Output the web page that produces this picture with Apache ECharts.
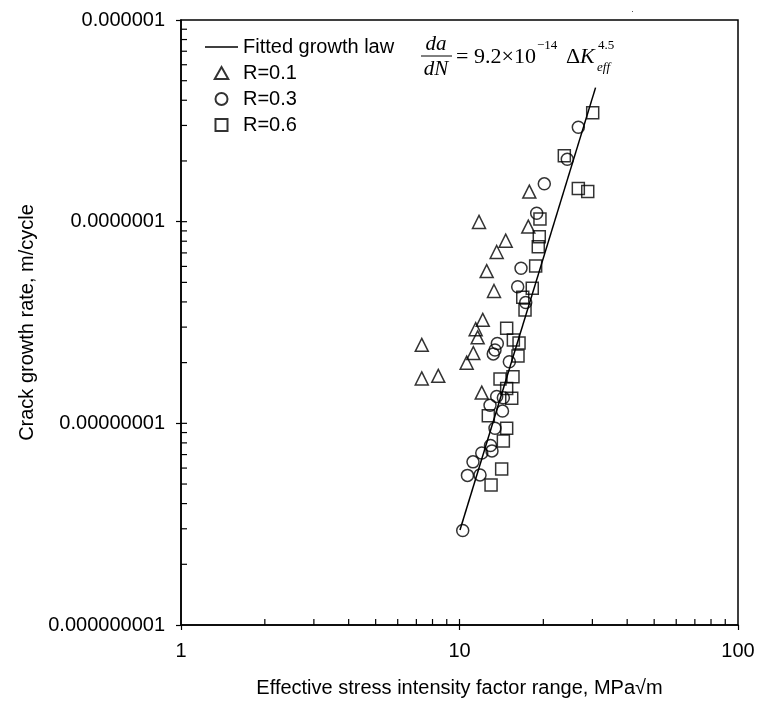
<!DOCTYPE html>
<html>
<head>
<meta charset="utf-8">
<script src="https://cdn.jsdelivr.net/npm/echarts@6.0.0/dist/echarts.min.js"></script>
<style>
  html, body { margin: 0; padding: 0; background: #fff; }
  #chart { width: 763px; height: 704px; }
</style>
</head>
<body>
<div id="chart"></div>
<script>
// [dK_eff (MPa√m), da/dN (m/cycle)]
const r01 = [[11.75, 9.97e-8], [13.60, 7.07e-8], [12.52, 5.69e-8], [13.30, 4.53e-8], [17.81, 1.41e-7],
  [17.66, 9.45e-8], [14.65, 8.05e-8], [12.12, 3.26e-8], [11.43, 2.93e-8], [11.62, 2.67e-8],
  [11.21, 2.23e-8], [10.61, 2.00e-8], [12.02, 1.42e-8], [7.32, 2.45e-8], [7.32, 1.67e-8], [8.39, 1.72e-8]];

const r03 = [[26.71, 2.94e-7], [24.38, 2.04e-7], [20.16, 1.54e-7], [18.93, 1.10e-7], [16.63, 5.87e-8],
  [16.18, 4.76e-8], [17.29, 3.97e-8], [13.67, 2.49e-8], [13.41, 2.31e-8], [13.22, 2.21e-8],
  [15.10, 2.02e-8], [13.60, 1.36e-8], [14.37, 1.34e-8], [12.87, 1.23e-8], [14.27, 1.15e-8],
  [13.41, 9.46e-9], [12.92, 7.77e-9], [13.08, 7.30e-9], [12.02, 7.13e-9], [11.18, 6.44e-9],
  [10.68, 5.52e-9], [11.85, 5.55e-9], [10.27, 2.94e-9]];

const r06 = [[30.08, 3.47e-7], [23.79, 2.12e-7], [26.71, 1.46e-7], [28.87, 1.41e-7], [19.45, 1.03e-7],
  [19.34, 8.42e-8], [19.18, 7.52e-8], [18.77, 6.03e-8], [18.25, 4.68e-8], [16.87, 4.22e-8],
  [17.19, 3.65e-8], [14.77, 2.96e-8], [15.61, 2.59e-8], [16.36, 2.50e-8], [16.22, 2.16e-8],
  [13.98, 1.66e-8], [15.56, 1.70e-8], [14.77, 1.49e-8], [15.40, 1.33e-8], [12.69, 1.09e-8],
  [14.77, 9.46e-9], [14.37, 8.18e-9], [14.17, 5.94e-9], [12.98, 4.95e-9]];

// fitted growth law, end points
const fitLine = [[10.04, 2.96e-9], [30.8, 4.62e-7]];

const yTickValues = [1e-9, 1e-8, 1e-7, 1e-6];
const yTickLabels = ['0.000000001', '0.00000001', '0.0000001', '0.000001'];

// inside ticks
const xInnerTicks = [2, 3, 4, 5, 6, 7, 8, 9, 10, 20, 30, 40, 50, 60, 70, 80, 90];
const yInnerTicks = [2e-9, 3e-9, 4e-9, 5e-9, 6e-9, 7e-9, 8e-9, 9e-9, 1e-8,
  2e-8, 3e-8, 4e-8, 5e-8, 6e-8, 7e-8, 8e-8, 9e-8, 1e-7,
  2e-7, 3e-7, 4e-7, 5e-7, 6e-7, 7e-7, 8e-7, 9e-7];

const FONT = "'Liberation Sans', Arial, sans-serif";
const SERIF = "'Liberation Serif', 'Times New Roman', serif";

var chart = echarts.init(document.getElementById('chart'), null, { renderer: 'canvas' });

var markerStyle = { color: 'transparent', borderColor: '#000', borderWidth: 1.5 };

var option = {
  animation: false,
  backgroundColor: '#fff',
  grid: {
    left: 181, top: 20, width: 557, height: 605,
    show: true, borderColor: '#000', borderWidth: 1.5,
    outerBoundsMode: 'none'
  },
  legend: {
    left: 205, top: 37,
    orient: 'vertical',
    padding: 0,
    itemWidth: 33, itemHeight: 12, itemGap: 6,
    symbolKeepAspect: true,
    textStyle: { fontFamily: FONT, fontSize: 20, color: '#000', lineHeight: 20 },
    data: [
      { name: 'Fitted growth law', icon: 'path://M0,0H66V3H0Z', itemStyle: { color: '#000', borderWidth: 0 } },
      { name: 'R=0.1', icon: 'path://M6.5,0L13,11.5L0,11.5Z' },
      { name: 'R=0.3', icon: 'circle' },
      { name: 'R=0.6', icon: 'path://M0,0H11V11H0Z' }
    ]
  },
  xAxis: {
    type: 'log', logBase: 10, min: 1, max: 100,
    name: 'Effective stress intensity factor range, MPa\u221Am',
    nameLocation: 'middle', nameGap: 53,
    nameTextStyle: { fontFamily: FONT, fontSize: 20, color: '#000' },
    axisLine: { lineStyle: { color: '#000', width: 1.5 } },
    axisTick: { show: true, inside: false, length: 5, lineStyle: { color: '#000', width: 1.2 } },
    axisLabel: { margin: 16, fontFamily: FONT, fontSize: 20, color: '#000' },
    splitLine: { show: false }
  },
  yAxis: {
    type: 'log', logBase: 10, min: 1e-9, max: 1e-6,
    name: 'Crack growth rate, m/cycle',
    nameLocation: 'middle', nameGap: 141,
    nameTextStyle: { fontFamily: FONT, fontSize: 20, color: '#000' },
    axisLine: { lineStyle: { color: '#000', width: 1.5 } },
    axisTick: { show: true, inside: false, length: 5, lineStyle: { color: '#000', width: 1.2 } },
    axisLabel: {
      margin: 16, fontFamily: FONT, fontSize: 20, color: '#000',
      formatter: function (v) {
        for (var i = 0; i < yTickValues.length; i++) {
          if (Math.abs(Math.log10(v) - Math.log10(yTickValues[i])) < 0.01) return yTickLabels[i];
        }
        return '';
      }
    },
    splitLine: { show: false }
  },
  series: [
    {
      name: 'Fitted growth law', type: 'line', data: fitLine,
      symbol: 'none', showSymbol: false,
      lineStyle: { color: '#000', width: 1.5 }, itemStyle: { color: '#000' },
      z: 3
    },
    {
      name: 'R=0.1', type: 'scatter', data: r01, symbol: 'triangle', symbolSize: 13,
      itemStyle: markerStyle, z: 4
    },
    {
      name: 'R=0.3', type: 'scatter', data: r03, symbol: 'circle', symbolSize: 12,
      itemStyle: markerStyle, z: 4
    },
    {
      name: 'R=0.6', type: 'scatter', data: r06, symbol: 'rect', symbolSize: 12,
      itemStyle: markerStyle, z: 4
    },
    {
      // inside ticks on x axis
      type: 'custom', silent: true, clip: false, z: 5,
      data: xInnerTicks.map(function (v) { return [v, 1e-9]; }),
      renderItem: function (params, api) {
        var p = api.coord([api.value(0), api.value(1)]);
        return { type: 'line', shape: { x1: p[0], y1: p[1], x2: p[0], y2: p[1] - 6 },
          style: { stroke: '#000', lineWidth: 1.2 } };
      }
    },
    {
      // inside ticks on y axis
      type: 'custom', silent: true, clip: false, z: 5,
      data: yInnerTicks.map(function (v) { return [1, v]; }),
      renderItem: function (params, api) {
        var p = api.coord([api.value(0), api.value(1)]);
        return { type: 'line', shape: { x1: p[0], y1: p[1], x2: p[0] + 6, y2: p[1] },
          style: { stroke: '#000', lineWidth: 1.2 } };
      }
    }
  ],
  graphic: [
    { type: 'text', x: 436, y: 44, style: { text: 'da', font: 'italic 21px ' + SERIF, fill: '#000', textAlign: 'center', textVerticalAlign: 'middle' } },
    { type: 'line', shape: { x1: 421, y1: 56, x2: 452, y2: 56 }, style: { stroke: '#000', lineWidth: 1 } },
    { type: 'text', x: 436, y: 69, style: { text: 'dN', font: 'italic 21px ' + SERIF, fill: '#000', textAlign: 'center', textVerticalAlign: 'middle' } },
    { type: 'text', x: 456, y: 57, style: { text: '=', font: '22px ' + SERIF, fill: '#000', textAlign: 'left', textVerticalAlign: 'middle' } },
    { type: 'text', x: 474, y: 57, style: { text: '9.2\u00D710', font: '22px ' + SERIF, fill: '#000', textAlign: 'left', textVerticalAlign: 'middle' } },
    { type: 'text', x: 537, y: 46, style: { text: '\u221214', font: '13px ' + SERIF, fill: '#000', textAlign: 'left', textVerticalAlign: 'middle' } },
    { type: 'text', x: 566, y: 57, style: { text: '\u0394', font: '22px ' + SERIF, fill: '#000', textAlign: 'left', textVerticalAlign: 'middle' } },
    { type: 'text', x: 580, y: 57, style: { text: 'K', font: 'italic 22px ' + SERIF, fill: '#000', textAlign: 'left', textVerticalAlign: 'middle' } },
    { type: 'text', x: 598, y: 46, style: { text: '4.5', font: '13px ' + SERIF, fill: '#000', textAlign: 'left', textVerticalAlign: 'middle' } },
    { type: 'text', x: 597, y: 68, style: { text: 'eff', font: 'italic 13px ' + SERIF, fill: '#000', textAlign: 'left', textVerticalAlign: 'middle' } },
    { type: 'rect', shape: { x: 632, y: 11, width: 1, height: 1 }, style: { fill: '#555' } }
  ]
};

chart.setOption(option);
</script>
</body>
</html>
